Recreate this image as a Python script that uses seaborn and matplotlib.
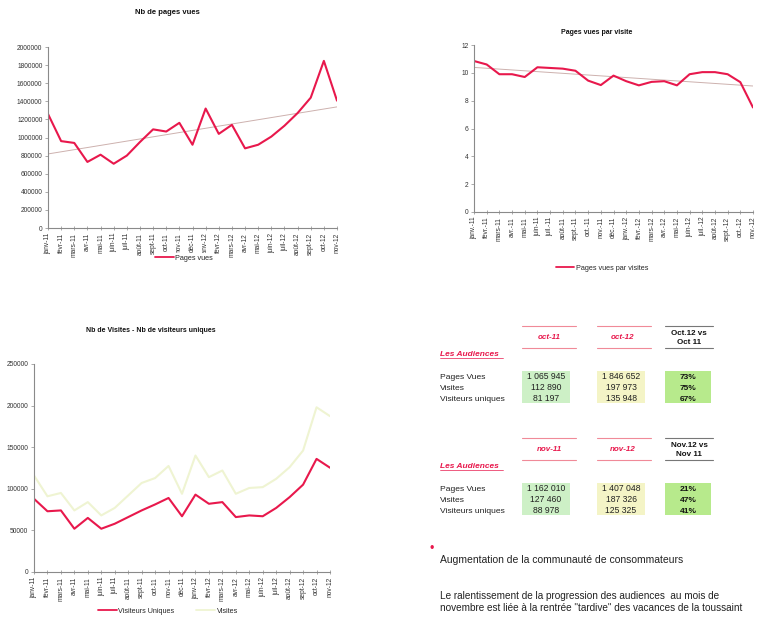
import numpy as np
import pandas as pd
import matplotlib
matplotlib.use("Agg")
import matplotlib.pyplot as plt
import seaborn as sns
from matplotlib.patches import Rectangle
from matplotlib.lines import Line2D
from matplotlib.ticker import FuncFormatter

W, H = 763, 630

# --- Données mensuelles (janv. 2011 -> nov. 2012) ---
mois = ["janv-11", "févr-11", "mars-11", "avr-11", "mai-11", "juin-11", "juil-11",
        "août-11", "sept-11", "oct-11", "nov-11", "déc-11", "janv-12", "févr-12",
        "mars-12", "avr-12", "mai-12", "juin-12", "juil-12", "août-12", "sept-12",
        "oct-12", "nov-12"]
mois_abr = ["janv.-11", "févr.-11", "mars-11", "avr.-11", "mai-11", "juin-11", "juil.-11",
            "août-11", "sept.-11", "oct.-11", "nov.-11", "déc.-11", "janv.-12", "févr.-12",
            "mars-12", "avr.-12", "mai-12", "juin-12", "juil.-12", "août-12", "sept.-12",
            "oct.-12", "nov.-12"]

pages_vues = [1260000, 960000, 940000, 730000, 810000, 710000, 800000, 950000,
              1090000, 1065945, 1162010, 920000, 1320000, 1040000, 1140000, 880000,
              920000, 1010000, 1130000, 1270000, 1440000, 1846652, 1407048]

pages_par_visite = [10.85, 10.6, 9.9, 9.9, 9.7, 10.4, 10.35, 10.3, 10.15, 9.44, 9.12,
                    9.8, 9.4, 9.1, 9.35, 9.4, 9.1, 9.9, 10.05, 10.05, 9.9, 9.33, 7.51]

visiteurs_uniques = [88000, 73000, 74000, 52000, 65000, 52000, 58000, 66000, 74000,
                     81197, 88978, 67000, 93000, 82000, 84000, 66000, 68000, 67000,
                     77000, 90000, 105000, 135948, 125325]

visites = [116000, 91000, 95000, 74000, 84000, 68000, 77000, 92000, 107000, 112890,
           127460, 94000, 140000, 114000, 122000, 94000, 101000, 102000, 112000,
           126000, 146000, 197973, 187326]

# --- Tableau des audiences ---
lignes = ["Pages Vues", "Visites", "Visiteurs uniques"]
oct_11 = [1065945, 112890, 81197]
oct_12 = [1846652, 197973, 135948]
evol_oct = ["73%", "75%", "67%"]
nov_11 = [1162010, 127460, 88978]
nov_12 = [1407048, 187326, 125325]
evol_nov = ["21%", "47%", "41%"]

ROUGE = "#e8184c"
TENDANCE = "#cdb1ae"
VISITES_C = "#eff4d2"

sns.set_theme(style="white")
plt.rcParams["font.family"] = ["Liberation Sans", "DejaVu Sans"]

fig = plt.figure(figsize=(W / 100, H / 100), dpi=100)
fig.patch.set_facecolor("white")


def rect(l, t, r, b):
    return [l / W, 1 - b / H, (r - l) / W, (b - t) / H]


def fx(x):
    return x / W


def fy(y):
    return 1 - y / H


def habiller(ax, labels, ymax, ystep):
    ax.set_xlim(0, 22)
    ax.set_ylim(0, ymax)
    ax.set_yticks(np.arange(0, ymax + ystep / 2, ystep))
    ax.yaxis.set_major_formatter(FuncFormatter(lambda v, p: f"{int(round(v))}"))
    ax.set_xticks(range(len(labels)))
    ax.set_xticklabels(labels, rotation=90, fontsize=4.8, color="#333333")
    ax.tick_params(axis="y", labelsize=4.8, labelcolor="#333333", length=2,
                   width=0.5, color="#888888", pad=2, left=True)
    ax.tick_params(axis="x", length=3, width=0.5, color="#888888", pad=2,
                   direction="inout", bottom=True)
    for s in ["top", "right"]:
        ax.spines[s].set_visible(False)
    for s in ["left", "bottom"]:
        ax.spines[s].set_color("#8a8a8a")
        ax.spines[s].set_linewidth(0.8)
    ax.set_xlabel("")
    ax.set_ylabel("")
    ax.patch.set_alpha(0)


pos = np.arange(len(mois))
df = pd.DataFrame({"pos": pos, "pages_vues": pages_vues,
                   "ppv": pages_par_visite, "vu": visiteurs_uniques,
                   "visites": visites})

# --- Nb de pages vues ---
ax1 = fig.add_axes(rect(48, 47, 337, 228))
sns.regplot(data=df, x="pos", y="pages_vues", scatter=False, ci=None, ax=ax1,
            line_kws=dict(color=TENDANCE, lw=0.7))
sns.lineplot(data=df, x="pos", y="pages_vues", ax=ax1, color=ROUGE, lw=1.5)
habiller(ax1, mois, 2000000, 200000)
fig.text(fx(167), fy(13), "Nb de pages vues", ha="center", va="center",
         fontsize=5.5, fontweight="bold", color="#111111")
fig.legend(handles=[Line2D([], [], color=ROUGE, lw=1.3)], labels=["Pages vues"],
           loc="center", bbox_to_anchor=(fx(184), fy(258)), fontsize=5.2,
           frameon=True, facecolor="white", edgecolor="none", framealpha=1,
           handlelength=2.6, handletextpad=0.2, borderpad=0.15, fancybox=False)

# --- Pages vues par visite ---
ax2 = fig.add_axes(rect(474, 45, 753, 212))
sns.regplot(data=df, x="pos", y="ppv", scatter=False, ci=None, ax=ax2,
            line_kws=dict(color=TENDANCE, lw=0.7))
sns.lineplot(data=df, x="pos", y="ppv", ax=ax2, color=ROUGE, lw=1.5)
habiller(ax2, mois_abr, 12, 2)
fig.text(fx(597), fy(33), "Pages vues par visite", ha="center", va="center",
         fontsize=5.0, fontweight="bold", color="#111111")
fig.legend(handles=[Line2D([], [], color=ROUGE, lw=1.3)],
           labels=["Pages vues par visites"],
           loc="center", bbox_to_anchor=(fx(602), fy(268)), fontsize=5.2,
           frameon=True, facecolor="white", edgecolor="none", framealpha=1,
           handlelength=2.6, handletextpad=0.2, borderpad=0.15, fancybox=False)

# --- Nb de visites / visiteurs uniques ---
ax3 = fig.add_axes(rect(34, 364, 330, 572))
sns.lineplot(data=df, x="pos", y="visites", ax=ax3, color=VISITES_C, lw=1.5)
sns.lineplot(data=df, x="pos", y="vu", ax=ax3, color=ROUGE, lw=1.5)
habiller(ax3, mois, 250000, 50000)
fig.text(fx(151), fy(331), "Nb de Visites - Nb de visiteurs uniques", ha="center",
         va="center", fontsize=5.0, fontweight="bold", color="#111111")
fig.legend(handles=[Line2D([], [], color=ROUGE, lw=1.3),
                    Line2D([], [], color=VISITES_C, lw=1.3)],
           labels=["Visiteurs Uniques", "Visites"], ncol=2,
           loc="center", bbox_to_anchor=(fx(168), fy(611)), fontsize=5.2,
           frameon=True, facecolor="white", edgecolor="none", framealpha=1,
           handlelength=2.6, handletextpad=0.2, columnspacing=3.0,
           borderpad=0.15, fancybox=False)

# --- Tableau des audiences ---
VERT = "#cdf0c6"
JAUNE = "#f4f4c6"
VERT_VIF = "#b7ea8c"
COLS = [(522, 570), (597, 645), (665, 711)]


def fmt(v):
    return f"{v:,}".replace(",", " ")


def hline(x1, x2, y, color, lw=0.8):
    fig.add_artist(Line2D([fx(x1), fx(x2)], [fy(y), fy(y)], color=color, lw=lw,
                          transform=fig.transFigure))


def bloc(y_top, h1, h2, comp1, comp2, v1, v2, evol):
    # en-têtes
    for (x1, x2) in COLS[:2]:
        hline(x1, x2 + 6, y_top, "#f08a98")
        hline(x1, x2 + 6, y_top + 22, "#f08a98")
    hline(COLS[2][0], COLS[2][1] + 2, y_top, "#777777")
    hline(COLS[2][0], COLS[2][1] + 2, y_top + 22, "#777777")
    fig.text(fx(549), fy(y_top + 13), h1, ha="center", va="baseline", fontsize=5.8,
             fontweight="bold", fontstyle="italic", color=ROUGE)
    fig.text(fx(623), fy(y_top + 13), h2, ha="center", va="baseline", fontsize=5.8,
             fontweight="bold", fontstyle="italic", color=ROUGE)
    fig.text(fx(689), fy(y_top + 9), comp1, ha="center", va="baseline",
             fontsize=5.8, fontweight="bold", color="#111111")
    fig.text(fx(689), fy(y_top + 18), comp2, ha="center", va="baseline",
             fontsize=5.8, fontweight="bold", color="#111111")
    fig.text(fx(440), fy(y_top + 30), "Les Audiences", ha="left", va="baseline",
             fontsize=6.0, fontweight="bold", fontstyle="italic", color=ROUGE)
    hline(440, 503, y_top + 32, ROUGE, lw=0.5)
    # cellules colorées
    y0 = y_top + 45
    for (x1, x2), c in zip(COLS, [VERT, JAUNE, VERT_VIF]):
        fig.add_artist(Rectangle((fx(x1), fy(y0 + 32)), (x2 - x1) / W, 32 / H,
                                 transform=fig.transFigure, facecolor=c,
                                 edgecolor="none"))
    for i, nom in enumerate(lignes):
        yy = y0 + 8 + 11 * i
        fig.text(fx(440), fy(yy), nom, ha="left", va="baseline", fontsize=6.1,
                 color="#222222")
        fig.text(fx(546), fy(yy), fmt(v1[i]), ha="center", va="baseline",
                 fontsize=6.2, color="#222222")
        fig.text(fx(621), fy(yy), fmt(v2[i]), ha="center", va="baseline",
                 fontsize=6.2, color="#222222")
        fig.text(fx(688), fy(yy), evol[i], ha="center", va="baseline",
                 fontsize=6.0, fontweight="bold", color="#111111")


bloc(326, "oct-11", "oct-12", "Oct.12 vs", "Oct 11", oct_11, oct_12, evol_oct)
bloc(438, "nov-11", "nov-12", "Nov.12 vs", "Nov 11", nov_11, nov_12, evol_nov)

fig.text(fx(432), fy(549), "•", ha="center", va="center", fontsize=9, color=ROUGE)
fig.text(fx(440), fy(560), "Augmentation de la communauté de consommateurs",
         ha="left", va="center", fontsize=7.5, color="#222222")
fig.text(fx(440), fy(596),
         "Le ralentissement de la progression des audiences  au mois de",
         ha="left", va="center", fontsize=7.2, color="#222222")
fig.text(fx(440), fy(608),
         "novembre est liée à la rentrée \"tardive\" des vacances de la toussaint",
         ha="left", va="center", fontsize=7.2, color="#222222")

fig.savefig("out.png", dpi=100, facecolor="white")
